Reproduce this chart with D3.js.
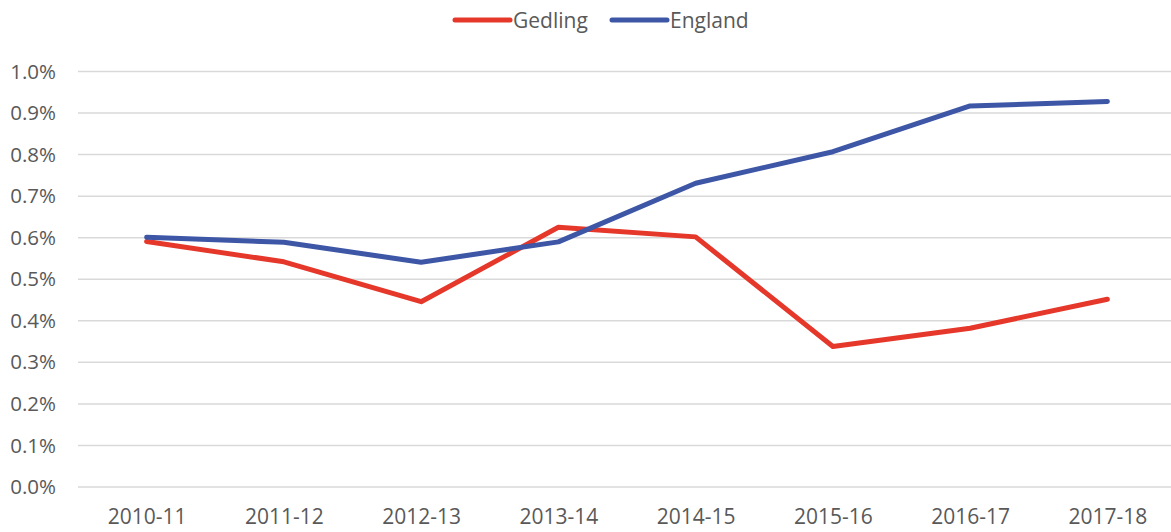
<!DOCTYPE html>
<html>
<head>
<meta charset="utf-8">
<script src="https://cdnjs.cloudflare.com/ajax/libs/d3/7.8.5/d3.min.js"></script>
<style>
  body { margin: 0; background: #fff; }
  text { font-family: "Open Sans", "Noto Sans", sans-serif; fill: #595959; }
</style>
</head>
<body>
<div id="chart"></div>
<script>
var years = ["2010-11", "2011-12", "2012-13", "2013-14", "2014-15", "2015-16", "2016-17", "2017-18"];
var gedling = [0.591, 0.542, 0.446, 0.625, 0.602, 0.338, 0.382, 0.452];
var england = [0.601, 0.589, 0.541, 0.590, 0.731, 0.807, 0.917, 0.928];
var yTicks = [0, 0.1, 0.2, 0.3, 0.4, 0.5, 0.6, 0.7, 0.8, 0.9, 1.0];

var w = 1171,
	h = 532;

var svg = d3.select("#chart").append("svg")
	.attr("width", w)
	.attr("height", h);

var x = d3.scalePoint()
	.domain(years)
	.range([78, 1176])
	.padding(0.5);

var y = d3.scaleLinear()
	.domain([0, 1.0])
	.range([487, 71.5]);

//gridlines
svg.append("g")
	.selectAll("line")
	.data(yTicks)
	.enter()
	.append("line")
	.attr("x1", 78)
	.attr("x2", 1171)
	.attr("y1", function(d){ return y(d); })
	.attr("y2", function(d){ return y(d); })
	.attr("stroke", "#d9d9d9")
	.attr("stroke-width", 1.5);

//y axis labels
var yAxis = d3.axisLeft(y)
	.tickValues(yTicks)
	.tickSize(0)
	.tickPadding(0)
	.tickFormat(function(d){ return d.toFixed(1) + "%"; });

svg.append("g")
	.attr("transform", "translate(56,0)")
	.call(yAxis)
	.call(function(g){ g.select(".domain").remove(); })
	.selectAll("text")
	.attr("font-size", "20.5px")
	.attr("font-family", null)
	.attr("fill", "#595959");

//x axis labels
var xAxis = d3.axisBottom(x).tickSize(0).tickPadding(0);

svg.append("g")
	.attr("transform", "translate(0,509)")
	.call(xAxis)
	.call(function(g){ g.select(".domain").remove(); })
	.selectAll("text")
	.attr("font-size", "21px")
	.attr("font-family", null)
	.attr("fill", "#595959");

var line = d3.line()
	.x(function(d, i){ return x(years[i]); })
	.y(function(d){ return y(d); });

var series = [
	{name: "Gedling", values: gedling, color: "#e5372a"},
	{name: "England", values: england, color: "#3d56a6"}
];

series.forEach(function(s){
	svg.append("path")
		.datum(s.values)
		.attr("d", line)
		.attr("fill", "none")
		.attr("stroke", s.color)
		.attr("stroke-width", 5)
		.attr("stroke-linejoin", "round")
		.attr("stroke-linecap", "round");
});

//legend
var legendX = [455, 612];
var legend = svg.append("g");
series.forEach(function(s, i){
	legend.append("line")
		.attr("x1", legendX[i])
		.attr("x2", legendX[i] + 55)
		.attr("y1", 20)
		.attr("y2", 20)
		.attr("stroke", s.color)
		.attr("stroke-width", 5)
		.attr("stroke-linecap", "round");
	legend.append("text")
		.attr("x", legendX[i] + 58)
		.attr("y", 27.5)
		.attr("font-size", "21px")
		.text(s.name);
});
</script>
</body>
</html>
